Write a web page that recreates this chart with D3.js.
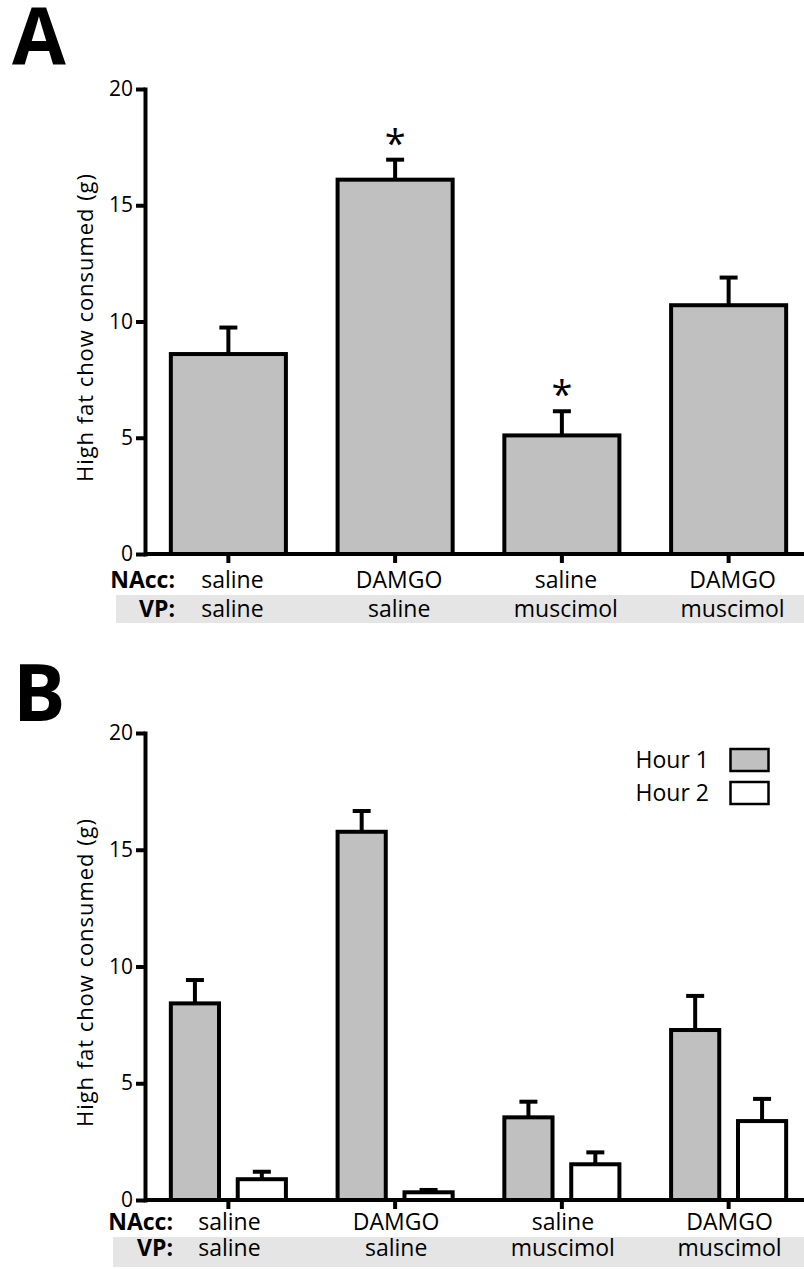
<!DOCTYPE html>
<html>
<head>
<meta charset="utf-8">
<script src="https://cdn.jsdelivr.net/npm/d3@7"></script>
<style>
  html, body { margin: 0; padding: 0; background: #fff; }
  svg { display: block; }
  text { font-family: "Open Sans", "Noto Sans", sans-serif; fill: #000; }
</style>
</head>
<body>
<script>
// ---------- data ----------
const nacc = ["saline", "DAMGO", "saline", "DAMGO"];
const vp = ["saline", "saline", "muscimol", "muscimol"];
const groups = ["g1", "g2", "g3", "g4"];
const yTicks = [0, 5, 10, 15, 20];

// Panel A: total intake (mean, SEM), significance flags
const meanA = [8.6, 16.1, 5.1, 10.7];
const semA = [1.14, 0.86, 1.04, 1.19];
const sigA = [false, true, true, false];

// Panel B: hourly intake
const series = ["Hour 1", "Hour 2"];
const meanHour1 = [8.42, 15.77, 3.54, 7.28];
const semHour1 = [1.0, 0.89, 0.67, 1.46];
const meanHour2 = [0.89, 0.33, 1.53, 3.38];
const semHour2 = [0.32, 0.10, 0.51, 0.95];
const seriesFill = ["#c0c0c0", "#ffffff"];

const yTitle = "High fat chow consumed (g)";

// ---------- drawing ----------
const W = 804, H = 1269;
const svg = d3.select("body").append("svg").attr("width", W).attr("height", H);

function drawAxes(g, y, x0, axisX, yZero, titleY) {
  const ya = g.append("g").attr("transform", `translate(${axisX},0)`)
    .call(d3.axisLeft(y).tickValues(yTicks).tickSize(9).tickSizeOuter(0).tickPadding(3));
  ya.select(".domain").attr("stroke-width", 4).attr("stroke-linecap", "square");
  ya.selectAll(".tick line").attr("stroke-width", 4);
  ya.selectAll(".tick text").attr("font-size", 21).attr("font-family", "Open Sans");

  const xa = g.append("g").attr("transform", `translate(0,${yZero})`)
    .call(d3.axisBottom(x0).tickSize(9).tickFormat(""));
  xa.select(".domain").remove();
  xa.selectAll(".tick line").attr("stroke-width", 4);
  g.append("line").attr("x1", axisX).attr("x2", W).attr("y1", yZero).attr("y2", yZero)
    .attr("stroke", "#000").attr("stroke-width", 4);

  g.append("text").attr("transform", `translate(85,${titleY}) rotate(-90)`)
    .attr("text-anchor", "middle").attr("dy", "0.35em").attr("font-size", 22)
    .attr("textLength", 308).text(yTitle);
}

function drawLabelRows(g, x0, opts) {
  g.append("rect").attr("x", opts.bandX).attr("y", opts.bandY).attr("width", W - opts.bandX)
    .attr("height", opts.bandH).attr("fill", "#e5e5e5");
  const rows = [{head: "NAcc:", vals: nacc, y: opts.y1}, {head: "VP:", vals: vp, y: opts.y2}];
  rows.forEach(r => {
    g.append("text").attr("x", opts.headX).attr("y", r.y)
      .attr("text-anchor", "end").attr("font-weight", "bold").attr("font-size", opts.fs).text(r.head);
    g.selectAll(null).data(groups).enter().append("text")
      .attr("x", d => x0(d) + x0.bandwidth() / 2 + opts.dx).attr("y", r.y)
      .attr("text-anchor", "middle").attr("font-size", opts.fs)
      .text((d, i) => r.vals[i]);
  });
}

function errorBar(g, cx, yv, ye) {
  g.append("line").attr("x1", cx).attr("x2", cx).attr("y1", yv).attr("y2", ye)
    .attr("stroke", "#000").attr("stroke-width", 4);
  g.append("line").attr("x1", cx - 9).attr("x2", cx + 9).attr("y1", ye).attr("y2", ye)
    .attr("stroke", "#000").attr("stroke-width", 4);
}

// ---- Panel A ----
const gA = svg.append("g");
const yA = d3.scaleLinear().domain([0, 20]).range([554, 89]);
const xA = d3.scaleBand().domain(groups).range([145, 812]).paddingInner(0.31).paddingOuter(0.155);

gA.append("text").attr("x", 12).attr("y", 64).attr("font-family", "Liberation Sans, Arial, sans-serif")
  .attr("font-weight", "bold").attr("font-size", 78).text("A");

groups.forEach((d, i) => {
  const cx = xA(d) + xA.bandwidth() / 2;
  errorBar(gA, cx, yA(meanA[i]), yA(meanA[i] + semA[i]));
});
gA.selectAll("rect.bar").data(groups).enter().append("rect").attr("class", "bar")
  .attr("x", d => xA(d)).attr("width", xA.bandwidth())
  .attr("y", (d, i) => yA(meanA[i])).attr("height", (d, i) => yA(0) - yA(meanA[i]))
  .attr("fill", "#c0c0c0").attr("stroke", "#000").attr("stroke-width", 4);
gA.selectAll("text.star").data(groups.filter((d, i) => sigA[i])).enter().append("text")
  .attr("class", "star").attr("text-anchor", "middle").attr("font-size", 38)
  .attr("x", d => xA(d) + xA.bandwidth() / 2)
  .attr("y", d => { const i = groups.indexOf(d); return yA(meanA[i] + semA[i]) - 3; })
  .text("*");

drawAxes(gA, yA, xA, 145, 554, 328);
drawLabelRows(gA, xA, {bandX: 116, bandY: 595, bandH: 28, y1: 588, y2: 617, headX: 175, fs: 23, dx: 4});

// ---- Panel B ----
const gB = svg.append("g");
const yB = d3.scaleLinear().domain([0, 20]).range([1200, 733]);
const xB0 = d3.scaleBand().domain(groups).range([145, 812]).paddingInner(0.31).paddingOuter(0.155);
const xB1 = d3.scaleBand().domain(series).range([0, xB0.bandwidth()]).paddingInner(0.28).paddingOuter(0);
const meansB = [meanHour1, meanHour2];
const semsB = [semHour1, semHour2];

gB.append("text").attr("x", 13).attr("y", 721).attr("font-family", "Liberation Sans, Arial, sans-serif")
  .attr("font-weight", "bold").attr("font-size", 78).text("B");

series.forEach((s, si) => {
  groups.forEach((d, i) => {
    const cx = xB0(d) + xB1(s) + xB1.bandwidth() / 2;
    errorBar(gB, cx, yB(meansB[si][i]), yB(meansB[si][i] + semsB[si][i]));
  });
  gB.selectAll(null).data(groups).enter().append("rect")
    .attr("x", d => xB0(d) + xB1(s)).attr("width", xB1.bandwidth())
    .attr("y", (d, i) => yB(meansB[si][i])).attr("height", (d, i) => yB(0) - yB(meansB[si][i]))
    .attr("fill", seriesFill[si]).attr("stroke", "#000").attr("stroke-width", 4);
});

drawAxes(gB, yB, xB0, 145, 1200, 973);
drawLabelRows(gB, xB0, {bandX: 113, bandY: 1237, bandH: 30, y1: 1230, y2: 1256, headX: 173, fs: 23, dx: 1});

// legend
const leg = gB.append("g");
series.forEach((s, si) => {
  const cy = 760 + si * 33;
  leg.append("text").attr("x", 709).attr("y", cy).attr("dy", "0.35em")
    .attr("text-anchor", "end").attr("font-size", 23).text(s);
  leg.append("rect").attr("x", 730.5).attr("y", cy - 11).attr("width", 38).attr("height", 22)
    .attr("fill", seriesFill[si]).attr("stroke", "#000").attr("stroke-width", 2.5);
});
</script>
</body>
</html>
